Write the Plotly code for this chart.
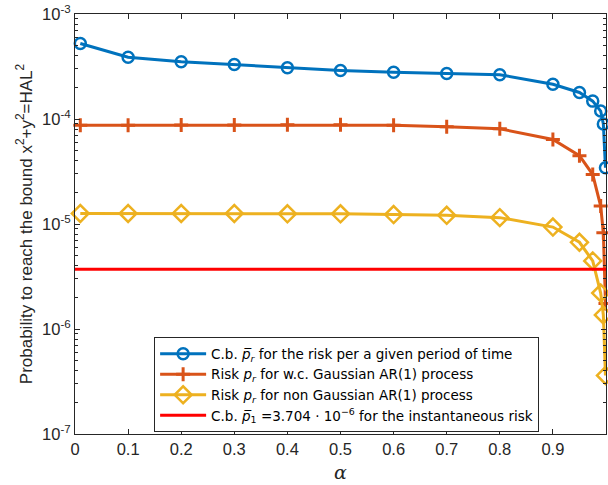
import plotly.graph_objects as go

alpha = [0.01, 0.1, 0.2, 0.3, 0.4, 0.5, 0.6, 0.7, 0.8, 0.9, 0.95, 0.975, 0.99, 0.995, 0.999]
cb_period = [5.23e-4, 3.88e-4, 3.51e-4, 3.31e-4, 3.08e-4, 2.90e-4, 2.79e-4, 2.71e-4, 2.64e-4,
             2.14e-4, 1.79e-4, 1.48e-4, 1.19e-4, 8.96e-5, 3.43e-5]
risk_gauss = [8.7e-5, 8.7e-5, 8.75e-5, 8.75e-5, 8.8e-5, 8.8e-5, 8.7e-5, 8.43e-5, 8.07e-5,
              6.38e-5, 4.47e-5, 2.96e-5, 1.48e-5, 8.24e-6, 1.75e-6]
risk_nongauss = [1.26e-5, 1.26e-5, 1.26e-5, 1.26e-5, 1.25e-5, 1.25e-5, 1.23e-5, 1.21e-5, 1.15e-5,
                 9.35e-6, 6.70e-6, 4.45e-6, 2.20e-6, 1.36e-6, 3.61e-7]
inst_x = [0, 1]
inst_risk = [3.704e-6, 3.704e-6]

xticks = [0, 0.1, 0.2, 0.3, 0.4, 0.5, 0.6, 0.7, 0.8, 0.9, 1]
xticklabels = ["0", "0.1", "0.2", "0.3", "0.4", "0.5", "0.6", "0.7", "0.8", "0.9", "1"]
yticks = [1e-7, 1e-6, 1e-5, 1e-4, 1e-3]
yticklabels = ["10<sup>-7</sup>", "10<sup>-6</sup>", "10<sup>-5</sup>", "10<sup>-4</sup>", "10<sup>-3</sup>"]
yminor = [m * d for d in [1e-7, 1e-6, 1e-5, 1e-4] for m in range(2, 10)]

names = [
    "C.b. <i>p\u0305</i><sub><i>r</i></sub> for the risk per a given period of time",
    "Risk <i>p</i><sub><i>r</i></sub> for w.c. Gaussian AR(1) process",
    "Risk <i>p</i><sub><i>r</i></sub> for non Gaussian AR(1) process",
    "C.b. <i>p\u0305</i><sub>1</sub> =3.704 \u00b7 10<sup>\u22126</sup> for the instantaneous risk",
]

BLUE = "#0072BD"
ORANGE = "#D95319"
YELLOW = "#EDB120"
RED = "#FF0000"

fig = go.Figure()
fig.add_trace(go.Scatter(x=alpha, y=cb_period, mode="lines+markers", name=names[0], cliponaxis=False,
                         line=dict(color=BLUE, width=3),
                         marker=dict(symbol="circle-open", size=11, line=dict(width=2.5, color=BLUE))))
fig.add_trace(go.Scatter(x=alpha, y=risk_gauss, mode="lines+markers", name=names[1], cliponaxis=False,
                         line=dict(color=ORANGE, width=3),
                         marker=dict(symbol="cross-thin", size=10, line=dict(width=3, color=ORANGE))))
fig.add_trace(go.Scatter(x=alpha, y=risk_nongauss, mode="lines+markers", name=names[2], cliponaxis=False,
                         line=dict(color=YELLOW, width=3),
                         marker=dict(symbol="diamond-open", size=13, line=dict(width=2.5, color=YELLOW))))
fig.add_trace(go.Scatter(x=inst_x, y=inst_risk, mode="lines", name=names[3],
                         line=dict(color=RED, width=3)))

axis_col = "#262626"
fig.update_layout(
    width=608, height=485,
    margin=dict(l=75, r=2, t=14, b=51),
    paper_bgcolor="white", plot_bgcolor="white",
    font=dict(family="Liberation Sans, Arial, sans-serif", size=16, color=axis_col),
    showlegend=True,
    legend=dict(x=0.149, y=0.23, xanchor="left", yanchor="top",
                bgcolor="white", bordercolor="#262626", borderwidth=1,
                font=dict(family="DejaVu Sans, sans-serif", size=13.5, color="black"), itemwidth=46,
                tracegroupgap=0),
    xaxis=dict(range=[0, 1], tickvals=xticks, ticktext=xticklabels,
               showgrid=False, zeroline=False, showline=True, linecolor=axis_col, linewidth=1,
               mirror="ticks", ticks="inside", ticklen=5, tickcolor=axis_col,
               tickfont=dict(size=16.5, color=axis_col),
               title=dict(text="<i>\u03b1</i>", font=dict(family="DejaVu Serif, serif", size=19, color=axis_col),
                          standoff=8)),
    yaxis=dict(type="log", range=[-7, -3], tickvals=yticks, ticktext=yticklabels,
               showgrid=False, zeroline=False, showline=True, linecolor=axis_col, linewidth=1,
               mirror="ticks", ticks="inside", ticklen=5, tickcolor=axis_col,
               tickfont=dict(size=16.5, color=axis_col),
               minor=dict(tickmode="array", tickvals=yminor, ticks="inside", ticklen=3,
                          tickcolor=axis_col, showgrid=False),
               title=dict(text="Probability to reach the bound x<sup>2</sup>+y<sup>2</sup>=HAL<sup>2</sup>",
                          font=dict(size=17, color=axis_col), standoff=5)),
)

fig.write_html("out.html")
